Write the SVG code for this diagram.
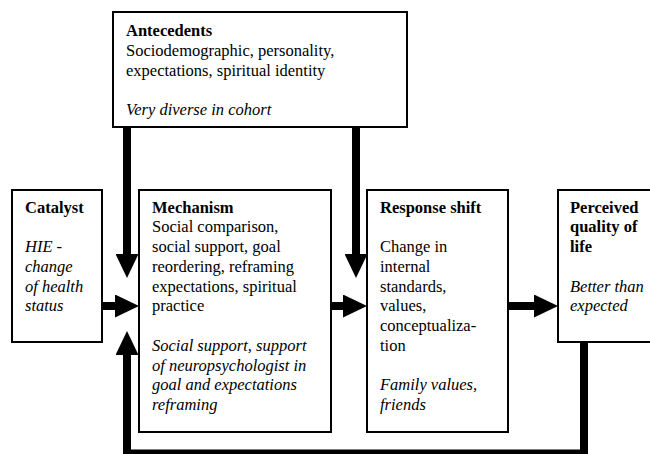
<svg xmlns="http://www.w3.org/2000/svg" width="650" height="454" viewBox="0 0 650 454">
  <style>
    .box { fill: #ffffff; stroke: #000000; stroke-width: 2; }
    text { font-family: "Liberation Serif", "Times New Roman", "DejaVu Serif", serif; font-size: 16.5px; fill: #000000; }
    .title { font-weight: bold; }
    .note { font-style: italic; }
    .shaft { fill: none; stroke: #000000; stroke-width: 8; stroke-linejoin: miter; stroke-linecap: butt; }
  </style>
  <defs>
    <marker id="head" markerUnits="userSpaceOnUse" viewBox="0 0 24 23" markerWidth="24" markerHeight="23" refX="0" refY="11.5" orient="auto">
      <path d="M0,0 L24,11.5 L0,23 Z" fill="#000000"/>
    </marker>
  </defs>
  <rect width="650" height="454" fill="#ffffff"/>

  <!-- connectors -->
  <g id="connectors">
    <line class="shaft" x1="127" y1="127" x2="127" y2="254" marker-end="url(#head)"/>
    <line class="shaft" x1="356" y1="127" x2="356" y2="254" marker-end="url(#head)"/>
    <line class="shaft" x1="102" y1="306" x2="115" y2="306" marker-end="url(#head)"/>
    <line class="shaft" x1="331" y1="306" x2="343" y2="306" marker-end="url(#head)"/>
    <line class="shaft" x1="508" y1="306" x2="534" y2="306" marker-end="url(#head)"/>
    <polyline class="shaft" points="584,342 584,453.5 127,453.5 127,355" marker-end="url(#head)"/>
  </g>

  <!-- Antecedents -->
  <g id="antecedents">
    <rect class="box" x="113" y="12" width="294" height="115"/>
    <text class="title" x="126" y="36">Antecedents</text>
    <text x="126" y="55.75">Sociodemographic, personality,</text>
    <text x="126" y="75.5">expectations, spiritual identity</text>
    <text class="note" x="126" y="115">Very diverse in cohort</text>
  </g>

  <!-- Catalyst -->
  <g id="catalyst">
    <rect class="box" x="12" y="190" width="90" height="152"/>
    <text class="title" x="25" y="212.5">Catalyst</text>
    <text class="note" x="25" y="252">HIE -</text>
    <text class="note" x="25" y="271.75">change</text>
    <text class="note" x="25" y="291.5">of health</text>
    <text class="note" x="25" y="311.25">status</text>
  </g>

  <!-- Mechanism -->
  <g id="mechanism">
    <rect class="box" x="139" y="190" width="192" height="242"/>
    <text class="title" x="152" y="212.5">Mechanism</text>
    <text x="152" y="232.25">Social comparison,</text>
    <text x="152" y="252">social support, goal</text>
    <text x="152" y="271.75">reordering, reframing</text>
    <text x="152" y="291.5">expectations, spiritual</text>
    <text x="152" y="311.25">practice</text>
    <text class="note" x="152" y="350.75">Social support, support</text>
    <text class="note" x="152" y="370.5">of neuropsychologist in</text>
    <text class="note" x="152" y="390.25">goal and expectations</text>
    <text class="note" x="152" y="410">reframing</text>
  </g>

  <!-- Response shift -->
  <g id="response-shift">
    <rect class="box" x="367" y="190" width="141" height="242"/>
    <text class="title" x="380" y="212.5">Response shift</text>
    <text x="380" y="252">Change in</text>
    <text x="380" y="271.75">internal</text>
    <text x="380" y="291.5">standards,</text>
    <text x="380" y="311.25">values,</text>
    <text x="380" y="331">conceptualiza-</text>
    <text x="380" y="350.75">tion</text>
    <text class="note" x="380" y="390.25">Family values,</text>
    <text class="note" x="380" y="410">friends</text>
  </g>

  <!-- Perceived quality of life -->
  <g id="perceived-qol">
    <rect class="box" x="558" y="190" width="100" height="152"/>
    <text class="title" x="570" y="212.5">Perceived</text>
    <text class="title" x="570" y="232.25">quality of</text>
    <text class="title" x="570" y="252">life</text>
    <text class="note" x="570" y="291.5">Better than</text>
    <text class="note" x="570" y="311.25">expected</text>
  </g>
</svg>
